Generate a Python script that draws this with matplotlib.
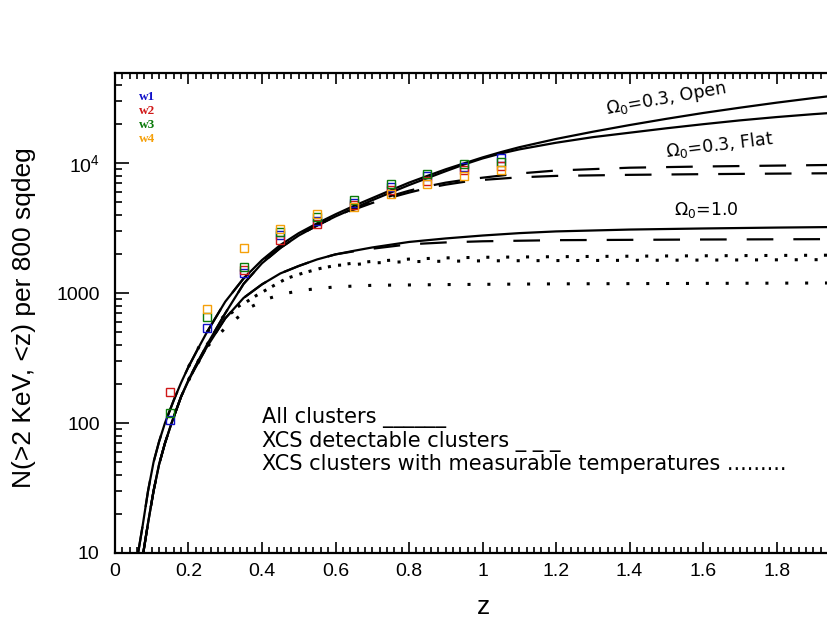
import numpy as np
import matplotlib
matplotlib.use('Agg')
import matplotlib.pyplot as plt
from matplotlib.ticker import MultipleLocator, LogLocator, NullFormatter

# ---- model curves: N(>2 keV, <z) ----
# all clusters (solid)
z_open = [0.063, 0.075, 0.09, 0.105, 0.12, 0.136, 0.16, 0.18, 0.2, 0.225, 0.25, 0.3, 0.35, 0.4, 0.45,
          0.5, 0.55, 0.6, 0.65, 0.7, 0.75, 0.8, 0.85, 0.9, 0.95, 1.0, 1.05, 1.1, 1.2, 1.3, 1.4, 1.5,
          1.6, 1.7, 1.8, 1.9, 2.0]
n_open = [10, 16, 30, 50, 72, 100, 150, 205, 271, 370, 500, 860, 1300, 1800, 2350,
          2900, 3450, 4050, 4700, 5400, 6200, 7100, 8000, 9000, 10000, 11100, 12200, 13300, 15400, 17500, 19700, 22000,
          24400, 26800, 29300, 31800, 34300]

z_flat = [0.077, 0.09, 0.105, 0.12, 0.136, 0.154, 0.18, 0.2, 0.218, 0.25, 0.3, 0.35, 0.4, 0.45, 0.5,
          0.55, 0.6, 0.65, 0.7, 0.75, 0.8, 0.85, 0.9, 0.95, 1.0, 1.05, 1.1, 1.2, 1.3, 1.4, 1.5, 1.6,
          1.7, 1.8, 1.9, 2.0]
n_flat = [10, 17, 30, 48, 70, 100, 160, 215, 271, 400, 700, 1180, 1700, 2230, 2780,
          3320, 3900, 4500, 5200, 5950, 6800, 7700, 8700, 9800, 10900, 11900, 12800, 14400, 15900, 17200, 18600, 20000,
          21400, 22700, 23900, 25000]

z_one = [0.077, 0.09, 0.105, 0.12, 0.136, 0.154, 0.18, 0.2, 0.218, 0.25, 0.3, 0.35, 0.4, 0.45, 0.5,
         0.55, 0.6, 0.65, 0.7, 0.8, 0.9, 1.0, 1.1, 1.2, 1.4, 1.6, 1.8, 2.0]
n_one = [10, 17, 30, 48, 70, 100, 160, 212, 265, 385, 640, 920, 1170, 1420, 1620,
         1820, 1990, 2120, 2250, 2480, 2640, 2780, 2900, 2990, 3090, 3150, 3200, 3240]

# XCS detectable clusters (dashed)
zd_open = [0.063, 0.075, 0.09, 0.105, 0.12, 0.136, 0.16, 0.18, 0.2, 0.225, 0.25, 0.3, 0.35, 0.4, 0.45,
           0.5, 0.55, 0.6, 0.65, 0.7, 0.75, 0.8, 0.85, 0.9, 0.95, 1.0, 1.1, 1.2, 1.4, 1.6, 1.8, 2.0]
nd_open = [10, 16, 30, 50, 72, 100, 150, 205, 271, 370, 500, 860, 1300, 1780, 2300,
           2820, 3350, 3900, 4480, 5050, 5600, 6150, 6650, 7100, 7450, 7750, 8350, 8800, 9250, 9450, 9600, 9750]

zd_flat = [0.077, 0.09, 0.105, 0.12, 0.136, 0.154, 0.18, 0.2, 0.218, 0.25, 0.3, 0.35, 0.4, 0.45, 0.5,
           0.55, 0.6, 0.65, 0.7, 0.75, 0.8, 0.85, 0.9, 0.95, 1.0, 1.1, 1.2, 1.4, 1.6, 1.8, 2.0]
nd_flat = [10, 17, 30, 48, 70, 100, 160, 215, 271, 400, 700, 1180, 1700, 2230, 2780,
           3320, 3900, 4400, 4950, 5450, 5950, 6450, 6850, 7200, 7450, 7800, 8000, 8150, 8250, 8330, 8400]

zd_one = [0.077, 0.09, 0.105, 0.12, 0.136, 0.154, 0.18, 0.2, 0.218, 0.25, 0.3, 0.35, 0.4, 0.45, 0.5,
          0.55, 0.6, 0.65, 0.7, 0.8, 0.9, 1.0, 1.2, 1.6, 2.0]
nd_one = [10, 17, 30, 48, 70, 100, 160, 212, 265, 385, 640, 920, 1170, 1420, 1620,
          1820, 1990, 2100, 2200, 2380, 2460, 2510, 2560, 2590, 2610]

# XCS clusters with measurable temperatures (dotted)
zt_open = [0.2, 0.225, 0.25, 0.3, 0.35, 0.386, 0.426, 0.467, 0.512, 0.558, 0.603, 0.653, 0.703,
           0.8, 0.9, 1.0, 1.2, 1.5, 2.0]
nt_open = [271, 370, 500, 680, 840, 965, 1120, 1300, 1430, 1550, 1640, 1710, 1760,
           1830, 1870, 1890, 1910, 1935, 1965]

zt_flat = [0.2, 0.218, 0.25, 0.3, 0.35, 0.386, 0.426, 0.467, 0.512, 0.558, 0.603, 0.65, 0.7,
           0.8, 1.0, 1.5, 2.0]
nt_flat = [215, 271, 400, 650, 830, 965, 1120, 1300, 1430, 1550, 1640, 1660, 1710,
           1750, 1775, 1795, 1815]

zt_one = [0.2, 0.218, 0.25, 0.3, 0.331, 0.372, 0.417, 0.463, 0.512, 0.558, 0.603, 0.7, 0.9,
          1.2, 1.6, 2.0]
nt_one = [212, 265, 385, 540, 640, 790, 910, 995, 1055, 1090, 1120, 1150, 1165,
          1180, 1190, 1200]

# ---- simulated counts w1..w4 ----
z_pts = [0.15, 0.25, 0.35, 0.45, 0.55, 0.65, 0.75, 0.85, 0.95, 1.05]
w1 = [105, 541, 1420, 2790, 3600, 4950, 6570, 7940, 9340, 11060]
w2 = [174, np.nan, 1500, 2590, 3440, 4740, 6200, 7310, 8840, 9480]
w3 = [119, 657, 1580, 2960, 3860, 5190, 6890, 8340, 9940, 10230]
w4 = [np.nan, 762, 2210, 3140, 4100, 4610, 5840, 6890, 7940, 8840]
w_names = ['w1', 'w2', 'w3', 'w4']
w_colors = ['#1010c8', '#d01818', '#0a7a0a', '#f5a00a']

ytick_vals = [10, 100, 1000, 10000]
ytick_labels = ['10', '100', '1000', r'$\mathregular{10^4}$']

plt.rcParams['font.family'] = ['Liberation Sans', 'DejaVu Sans']
plt.rcParams['mathtext.default'] = 'regular'

fig = plt.figure(figsize=(8.27, 6.23), dpi=100)
# right edge of the frame lies just past the picture, as in the original
ax = fig.add_axes([0.139, 0.1124, 0.889, 0.7712])

lw = 1.6
dash = (0, (12, 9))
dot = (0, (1.0, 5.5))
for zz, nn in [(z_open, n_open), (z_flat, n_flat), (z_one, n_one)]:
    ax.plot(zz, nn, color='black', lw=lw, solid_capstyle='butt')
for zz, nn in [(zd_open, nd_open), (zd_flat, nd_flat), (zd_one, nd_one)]:
    ax.plot(zz, nn, color='black', lw=lw, linestyle=dash)
for zz, nn in [(zt_open, nt_open), (zt_flat, nt_flat), (zt_one, nt_one)]:
    ax.plot(zz, nn, color='black', lw=2.2, linestyle=dot)

for vals, c in zip([w1, w2, w3, w4], w_colors):
    ax.plot(z_pts, vals, 's', mfc='none', mec=c, ms=5.5, mew=1.0, linestyle='none')

ax.set_yscale('log')
ax.set_xlim(0, 2.0)
ax.set_ylim(10, 5e4)
ax.xaxis.set_major_locator(MultipleLocator(0.2))
ax.xaxis.set_minor_locator(MultipleLocator(0.02))
ax.set_xticks(np.arange(0, 2.0, 0.2))
ax.set_xticklabels(['0', '0.2', '0.4', '0.6', '0.8', '1', '1.2', '1.4', '1.6', '1.8'])
ax.set_yticks(ytick_vals)
ax.set_yticklabels(ytick_labels)
ax.yaxis.set_minor_locator(LogLocator(base=10, subs=np.arange(2, 10)))
ax.yaxis.set_minor_formatter(NullFormatter())
ax.tick_params(axis='both', which='both', direction='in', top=True, right=False, labelsize=14, width=1.2)
ax.tick_params(axis='x', which='major', length=8, pad=7)
ax.tick_params(axis='x', which='minor', length=4)
ax.tick_params(axis='y', which='major', length=10, pad=11)
ax.tick_params(axis='y', which='minor', length=5)
for s in ax.spines.values():
    s.set_linewidth(1.6)

# axis titles
fig.text(24 / 827, 1 - 318 / 623, 'N(>2 KeV, <z) per 800 sqdeg', rotation=90,
         ha='center', va='center', fontsize=19)
fig.text(483 / 827, 1 - 607 / 623, 'z', ha='center', va='center', fontsize=19)

# curve labels
lab_font = dict(family='DejaVu Sans', fontsize=12.5, ha='center', va='center')
fig.text(666 / 827, 1 - 99 / 623, r'$\Omega_0$=0.3, Open', rotation=10, **lab_font)
fig.text(720 / 827, 1 - 145 / 623, r'$\Omega_0$=0.3, Flat', rotation=7, **lab_font)
fig.text(706 / 827, 1 - 210 / 623, r'$\Omega_0$=1.0', **lab_font)

# line-style key
key_font = dict(family='DejaVu Sans', fontsize=15, ha='left', va='center')
fig.text(262 / 827, 1 - 418 / 623, 'All clusters ______', **key_font)
fig.text(262 / 827, 1 - 441 / 623, 'XCS detectable clusters _ _ _', **key_font)
fig.text(262 / 827, 1 - 464 / 623, 'XCS clusters with measurable temperatures .........', **key_font)

# colour key for the four simulations
for i, (nm, c) in enumerate(zip(w_names, w_colors)):
    fig.text(147 / 827, 1 - (97 + 14 * i) / 623, nm, color=c, fontsize=9.5, fontweight='bold',
             family='Liberation Serif', ha='center', va='center')

fig.savefig('out.png', dpi=100)
